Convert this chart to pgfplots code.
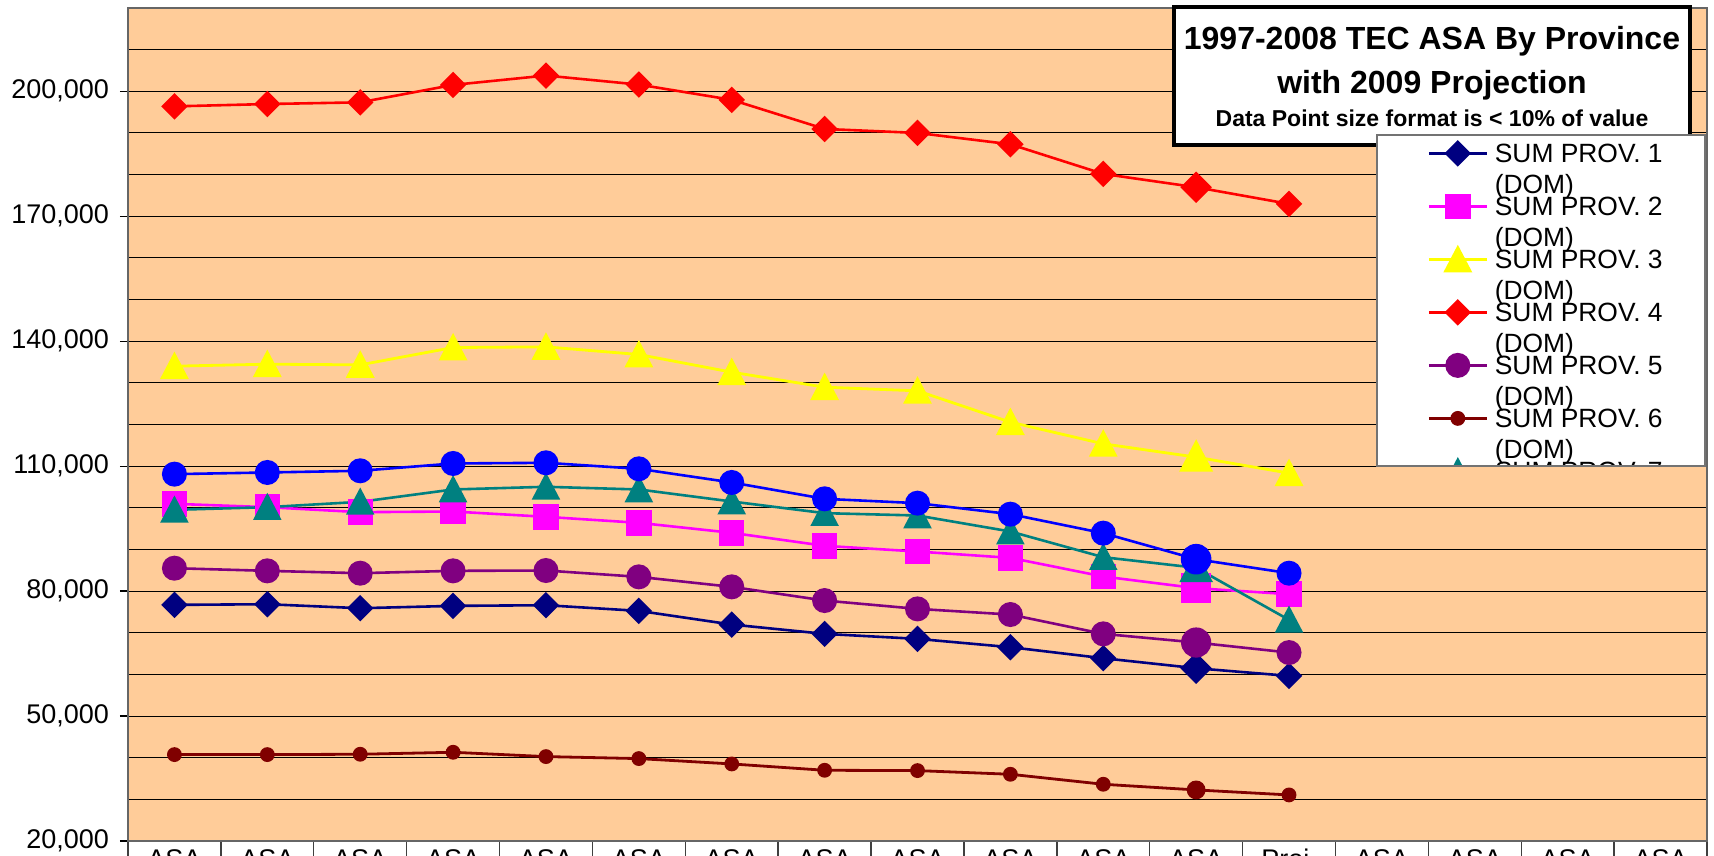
\documentclass[border=0pt]{standalone}
\usepackage{pgfplots}
\pgfplotsset{compat=1.18}
\usepackage{fontspec}
\setmainfont{Liberation Sans}
\definecolor{bgorange}{RGB}{255,204,153}
\definecolor{pnavy}{RGB}{0,0,128}
\definecolor{pmag}{RGB}{255,0,255}
\definecolor{pyel}{RGB}{255,255,0}
\definecolor{pred}{RGB}{255,0,0}
\definecolor{ppur}{RGB}{128,0,128}
\definecolor{pdred}{RGB}{128,0,0}
\definecolor{pteal}{RGB}{0,128,128}
\definecolor{pblue}{RGB}{0,0,255}
\pgfplotsset{
  s1/.style={color=pnavy, line width=1.3pt, mark=square*, mark size=4.03pt, mark options={solid, rotate=45}},
  s2/.style={color=pmag, line width=1.3pt, mark=square*, mark size=5.7pt, mark options={solid}},
  s3/.style={color=pyel, line width=1.4pt, mark=triangle*, mark size=7pt, mark options={solid, yshift=-1.9pt, yscale=1.1}},
  s4/.style={color=pred, line width=1.3pt, mark=square*, mark size=4.03pt, mark options={solid, rotate=45}},
  s5/.style={color=ppur, line width=1.3pt, mark=*, mark size=5.6pt, mark options={solid}},
  s6/.style={color=pdred, line width=1.4pt, mark=*, mark size=3pt, mark options={solid}},
  s7/.style={color=pteal, line width=1.3pt, mark=triangle*, mark size=7pt, mark options={solid, yshift=-1.9pt, yscale=1.1}},
  s8/.style={color=pblue, line width=1.3pt, mark=*, mark size=5.6pt, mark options={solid}},
}
\begin{document}
\begin{tikzpicture}
\path[use as bounding box] (-64pt,-7.5pt) rectangle (793pt,420.5pt);
\clip (-64pt,-7.5pt) rectangle (793pt,420.5pt);
\fill[white] (-64pt,-7.5pt) rectangle (793pt,420.5pt);
\begin{axis}[
  scale only axis, width=789.5pt, height=416.5pt,
  at={(0pt,0pt)}, anchor=south west,
  xmin=-0.5, xmax=16.5, ymin=20000, ymax=220000,
  axis background/.style={fill=bgorange},
  axis line style={draw=black!60, line width=0.9pt},
  ytick={20000,50000,80000,110000,140000,170000,200000},
  minor ytick={30000,40000,60000,70000,90000,100000,120000,130000,150000,160000,180000,190000,210000},
  ymajorgrids, yminorgrids,
  major grid style={black, line width=0.5pt},
  minor grid style={black, line width=0.5pt},
  xtick={0,...,16},
  xticklabels={{ASA\\1997},{ASA\\1998},{ASA\\1999},{ASA\\2000},{ASA\\2001},{ASA\\2002},{ASA\\2003},{ASA\\2004},{ASA\\2005},{ASA\\2006},{ASA\\2007},{ASA\\2008},{Proj.\\2009},{ASA\\2010},{ASA\\2011},{ASA\\2012},{ASA\\2013}},
  minor xtick={-0.5,0.5,...,16.5},
  tick pos=left,
  tick align=outside,
  major tick length=4pt, minor tick length=12pt,
  major x tick style={draw=none},
  minor y tick style={draw=none},
  minor x tick style={black!75, line width=0.7pt},
  major y tick style={black, line width=0.6pt},
  tick label style={font=\fontsize{13.5}{16}\selectfont},
  /pgf/number format/assume math mode=true,
  scaled y ticks=false,
  yticklabel style={/pgf/number format/fixed, /pgf/number format/1000 sep={,}, xshift=-2pt},
  xticklabel style={align=center, inner sep=0pt},
]
% SUM PROV. 1 (DOM)
\addplot[s1] coordinates {(0,76690) (1,76850) (2,75890) (3,76450) (4,76610) (5,75250) (6,71970) (7,69730) (8,68530) (9,66530) (10,63880) (11,61480) (12,59640)};
\addplot[s1, only marks, mark size=4.9pt, forget plot] coordinates {(11,61480)};
% SUM PROV. 2 (DOM)
\addplot[s2] coordinates {(0,100950) (1,100150) (2,98950) (3,99110) (4,97830) (5,96390) (6,93990) (7,90870) (8,89500) (9,87980) (10,83500) (11,80700) (12,79260)};
\addplot[s2, only marks, mark size=6.8pt, forget plot] coordinates {(11,80700)};
% SUM PROV. 3 (DOM)
\addplot[s3] coordinates {(0,134000) (1,134480) (2,134320) (3,138480) (4,138640) (5,136800) (6,132560) (7,128960) (8,128080) (9,120560) (10,115360) (11,112160) (12,108320)};
\addplot[s3, only marks, mark size=8.5pt, forget plot] coordinates {(11,112160)};
% SUM PROV. 4 (DOM)
\addplot[s4] coordinates {(0,196380) (1,196940) (2,197350) (3,201530) (4,203780) (5,201610) (6,197950) (7,190960) (8,190000) (9,187280) (10,180160) (11,176960) (12,172960)};
\addplot[s4, only marks, mark size=4.9pt, forget plot] coordinates {(11,176960)};
% SUM PROV. 5 (DOM)
\addplot[s5] coordinates {(0,85500) (1,84860) (2,84300) (3,84860) (4,84940) (5,83420) (6,81020) (7,77730) (8,75730) (9,74370) (10,69730) (11,67650) (12,65240)};
\addplot[s5, only marks, mark size=6.9pt, forget plot] coordinates {(11,67650)};
% SUM PROV. 6 (DOM)
\addplot[s6] coordinates {(0,40745) (1,40745) (2,40825) (3,41300) (4,40265) (5,39785) (6,38500) (7,36980) (8,36900) (9,36020) (10,33620) (11,32260) (12,31060)};
\addplot[s6, only marks, mark size=4pt, forget plot] coordinates {(11,32260)};
% SUM PROV. 7 (DOM)
\addplot[s7] coordinates {(0,99510) (1,100150) (2,101430) (3,104400) (4,105040) (5,104400) (6,101510) (7,98710) (8,98150) (9,94310) (10,88140) (11,85600) (12,73090)};
\addplot[s7, only marks, mark size=8.5pt, forget plot] coordinates {(11,85600)};
% SUM PROV. 8 (DOM)
\addplot[s8] coordinates {(0,108080) (1,108480) (2,108880) (3,110640) (4,110800) (5,109360) (6,106080) (7,102150) (8,101110) (9,98470) (10,93910) (11,87660) (12,84300)};
\addplot[s8, only marks, mark size=7pt, forget plot] coordinates {(11,87660)};
\end{axis}
% title box
\draw[line width=2pt, fill=white] (523pt,348pt) rectangle (781pt,417pt);
\node[anchor=base, font=\bfseries\fontsize{16}{19}\selectfont, inner sep=0pt] at (652pt,395.5pt) {1997-2008 TEC ASA By Province};
\node[anchor=base, font=\bfseries\fontsize{16}{19}\selectfont, inner sep=0pt] at (652pt,373.5pt) {with 2009 Projection};
\node[anchor=base, font=\bfseries\fontsize{11.5}{14}\selectfont, inner sep=0pt] at (652pt,357pt) {Data Point size format is < 10\% of value};
% legend (clipped box)
\begin{scope}
\clip (624.5pt,187.5pt) rectangle (788.5pt,353pt);
\fill[white] (624.5pt,187.5pt) rectangle (788.5pt,353pt);
\begin{axis}[
  scale only axis, width=789.5pt, height=416.5pt,
  at={(0pt,0pt)}, anchor=south west,
  hide axis, xmin=0, xmax=1, ymin=0, ymax=1,
  legend cell align=left,
  legend image code/.code={
    \path[draw=none, fill=none] (0pt,-17.5pt) rectangle (29pt,9pt);
    \draw[mark repeat=2,mark phase=2,#1] plot coordinates {(0pt,0pt) (14.5pt,0pt) (29pt,0pt)};
  },
  legend style={at={(0.82267,0.84754)}, anchor=north west, draw=none, fill=none,
    inner sep=0pt, row sep=0pt, column sep=3.3pt,
    font=\fontsize{13.2}{15.5}\selectfont,
    nodes={inner sep=0pt, text height=9.3pt, text depth=0pt}},
]
\addlegendimage{s1}\addlegendentry{\vtop{\hbox{SUM PROV. 1}\hbox{(DOM)}}}
\addlegendimage{s2}\addlegendentry{\vtop{\hbox{SUM PROV. 2}\hbox{(DOM)}}}
\addlegendimage{s3}\addlegendentry{\vtop{\hbox{SUM PROV. 3}\hbox{(DOM)}}}
\addlegendimage{s4}\addlegendentry{\vtop{\hbox{SUM PROV. 4}\hbox{(DOM)}}}
\addlegendimage{s5}\addlegendentry{\vtop{\hbox{SUM PROV. 5}\hbox{(DOM)}}}
\addlegendimage{s6}\addlegendentry{\vtop{\hbox{SUM PROV. 6}\hbox{(DOM)}}}
\addlegendimage{s7}\addlegendentry{\vtop{\hbox{SUM PROV. 7}\hbox{(DOM)}}}
\end{axis}
\end{scope}
\draw[black!55, line width=0.8pt] (624.5pt,187.5pt) rectangle (788.5pt,353pt);
\end{tikzpicture}
\end{document}
